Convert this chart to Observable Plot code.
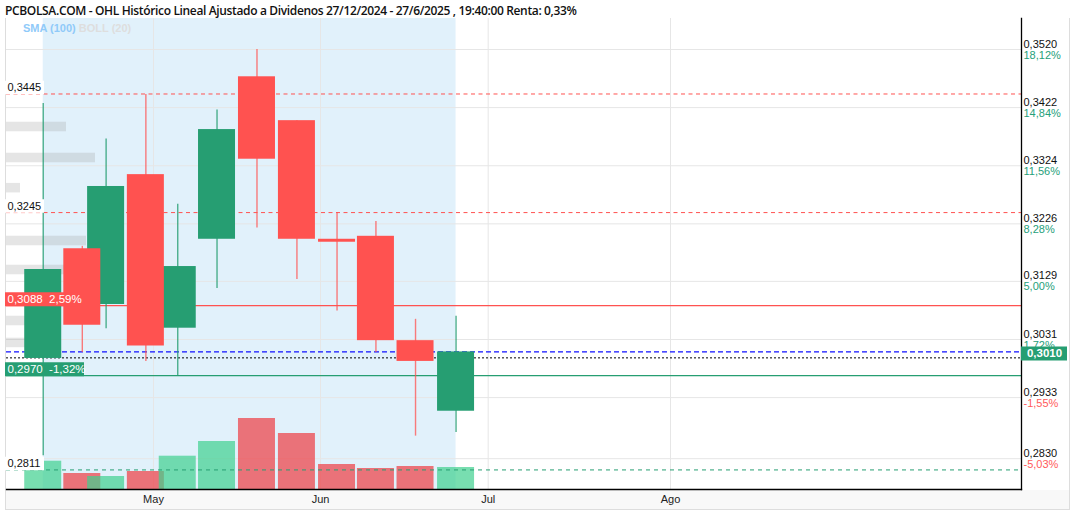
<!DOCTYPE html>
<html>
<head>
<meta charset="utf-8">
<script src="https://cdn.jsdelivr.net/npm/d3@7"></script>
<script src="https://cdn.jsdelivr.net/npm/@observablehq/plot@0.6"></script>
<style>
  body { margin: 0; background: #fff; }
  #wrap { position: relative; width: 1075px; height: 512px; overflow: hidden; }
  #title { height: 18px; padding-left: 5px; font: 600 12px "Open Sans", sans-serif; letter-spacing: -0.35px; color: #111; line-height: 22px; white-space: nowrap; }
  #band { position: absolute; left: 5px; top: 490px; width: 1064px; height: 19px; background: #f8f8f8; border-bottom: 1px solid #ddd; }
  #sides { position: absolute; left: 5px; top: 18px; width: 1063px; height: 492px; border-left: 1px solid #ddd; border-right: 1px solid #ddd; }
  #chart { position: relative; }
  #legend { position: absolute; left: 23px; top: 22px; font: bold 11px "Liberation Sans", Arial, sans-serif; }
  #legend .sma { color: #90caf9; }
  #legend .boll { color: #dedede; }
</style>
</head>
<body>
<div id="wrap">
  <div id="band"></div>
  <div id="sides"></div>
  <div id="title">PCBOLSA.COM - OHL Histórico Lineal Ajustado a Dividenos 27/12/2024 - 27/6/2025 , 19:40:00 Renta: 0,33%</div>
  <div id="chart"></div>
  <div id="legend"><span class="sma">SMA (100)</span> <span class="boll">BOLL (20)</span></div>
</div>
<script>
// ---- data ----
const dates = ["2025-04-10T13:00Z","2025-04-17T19:00Z","2025-04-22T05:00Z","2025-04-29T14:00Z",
               "2025-05-05T12:00Z","2025-05-12T19:00Z","2025-05-20T05:00Z","2025-05-27T15:00Z",
               "2025-06-03T23:00Z","2025-06-10T22:00Z","2025-06-18T00:00Z","2025-06-25T06:00Z"];
const open  = [0.2999,0.3184,0.3090,0.3309,0.3050,0.3200,0.3474,0.3400,0.3200,0.3205,0.3029,0.2910];
const high  = [0.3429,0.3188,0.3369,0.3444,0.3259,0.3418,0.3520,0.3400,0.3245,0.3230,0.3065,0.3070];
const low   = [0.2835,0.3009,0.3049,0.2994,0.2969,0.3117,0.3219,0.3132,0.3079,0.3009,0.2868,0.2874];
const close = [0.3149,0.3055,0.3289,0.3020,0.3154,0.3385,0.3335,0.3200,0.3195,0.3029,0.2994,0.3010];
const volume = [283,160,130,180,333,480,710,560,250,210,230,220];

// horizontal volume profile (price level, relative volume)
const profilePrice = [0.3390,0.3338,0.3287,0.3198,0.3149,0.3063,0.3026];
const profileVol   = [60,89,14,80,60,40,30];

// right axis ticks
const tickValues = [0.3520,0.3422,0.3324,0.3226,0.3129,0.3031,0.2933,0.2830];
const tickLabels = ["0,3520","0,3422","0,3324","0,3226","0,3129","0,3031","0,2933","0,2830"];
const tickPct    = ["18,12%","14,84%","11,56%","8,28%","5,00%","1,72%","-1,55%","-5,03%"];

// month ticks
const monthDates  = ["2025-05-01","2025-06-01","2025-07-01","2025-08-01"];
const monthLabels = ["May","Jun","Jul","Ago"];

// reference levels
const maxLevel = 0.3445, level2 = 0.3245, minLevel = 0.2811;
const redLevel = 0.3088, redPct = "2,59%";
const greenLevel = 0.2970, greenPct = "-1,32%";
const lastPrice = 0.3010, prevClose = 0.3000;

// ---- styling / layout ----
const W = 1075, H = 494;
const mL = 6, mR = 54, mT = 0, mB = 23;
const frameW = W - mL - mR;
const GREEN = "#269e72", RED = "#ff5250";
const yDomain = [0.27780, 0.35723];
const volAxisMax = 4710;
const xStops = ["2025-04-01","2025-05-01","2025-06-01","2025-07-01","2025-08-01","2025-09-01"].map(d => new Date(d));
const xRange = [-8.7, 153, 320, 487.7, 670, 852];

const candles = dates.map((d, i) => ({date: new Date(d), open: open[i], high: high[i], low: low[i], close: close[i], volume: volume[i]}));
const up = candles.filter(c => c.close >= c.open);
const down = candles.filter(c => c.close < c.open);
const volToPrice = v => yDomain[0] + v / volAxisMax * (yDomain[1] - yDomain[0]);

const xs = Plot.scale({x: {type: "utc", domain: xStops, range: xRange}});
const leftDate = xs.invert(mL);
const profPx = 1; // px per profile unit
const profile = profilePrice.map((p, i) => ({price: p, x1: leftDate, x2: xs.invert(mL + profileVol[i] * profPx)}));

const ticks = tickValues.map((v, i) => ({v, label: tickLabels[i], pct: tickPct[i], neg: tickPct[i].startsWith("-")}));
const months = monthDates.map(d => new Date(d));
const monthFmt = new Map(months.map((d, i) => [+d, monthLabels[i]]));
const first = candles[0].date, last = candles[candles.length - 1].date;
const font = "Liberation Sans, Arial, sans-serif";

const chart = Plot.plot({
  width: W, height: H,
  marginLeft: mL, marginRight: mR, marginTop: mT, marginBottom: mB,
  style: {background: "transparent", fontFamily: font, fontSize: "11px", overflow: "visible"},
  x: {type: "utc", domain: xStops, range: xRange, axis: null},
  y: {domain: yDomain, axis: null},
  marks: [
    // shaded period
    Plot.rect([0], {x1: () => first, x2: () => last, fill: "#e1f1fb"}),
    // grid
    Plot.ruleY(tickValues, {stroke: "#e6e6e6", strokeWidth: 1}),
    Plot.ruleX(months, {stroke: "#e6e6e6", strokeWidth: 1}),
    // volume profile
    Plot.ruleY(profile, {y: "price", x1: "x1", x2: "x2", stroke: "#a0a0a0", strokeOpacity: 0.27, strokeWidth: 9.5}),
    // volume bars
    Plot.rect(candles, {x1: "date", x2: "date", y1: yDomain[0], y2: d => volToPrice(d.volume),
      fill: d => d.close >= d.open ? "#3fd08f" : "#ee3c42", fillOpacity: 0.7,
      insetLeft: -18.5, insetRight: -18.5}),
    // reference lines
    Plot.ruleY([maxLevel, level2], {stroke: RED, strokeDasharray: "4,3.5", strokeWidth: 1}),
    Plot.ruleY([redLevel], {stroke: RED, strokeWidth: 1.3}),
    Plot.ruleY([lastPrice], {stroke: "#1010ff", strokeDasharray: "5,3", strokeWidth: 1.2}),
    Plot.ruleY([prevClose], {stroke: "#000", strokeDasharray: "2,2", strokeWidth: 1}),
    Plot.ruleY([greenLevel], {stroke: GREEN, strokeWidth: 1.3}),
    Plot.ruleY([minLevel], {stroke: GREEN, strokeDasharray: "4,4", strokeWidth: 1}),
    // candles: wicks
    Plot.ruleX(up, {x: "date", y1: "low", y2: "high", stroke: GREEN, strokeOpacity: 0.8, strokeWidth: 1.4}),
    Plot.ruleX(down, {x: "date", y1: "low", y2: "high", stroke: RED, strokeOpacity: 0.75, strokeWidth: 1.4}),
    // bodies
    Plot.rect(up, {x1: "date", x2: "date", y1: "open", y2: "close", fill: GREEN, insetLeft: -18.5, insetRight: -18.5}),
    Plot.rect(down, {x1: "date", x2: "date", y1: "open", y2: "close", fill: RED, insetLeft: -18.5, insetRight: -18.5}),
    // frame right + bottom
    Plot.frame({anchor: "right", stroke: "#000", strokeWidth: 1.3}),
    Plot.frame({anchor: "bottom", stroke: "#000", strokeWidth: 1.3}),
    // left level labels (white boxes)
    Plot.ruleY([maxLevel, level2, minLevel], {stroke: "#fff", strokeWidth: 13.5, dy: -6.5, insetLeft: -1, insetRight: frameW - 38}),
    Plot.text([maxLevel, level2, minLevel], {y: d => d, text: d => d.toFixed(4).replace(".", ","), frameAnchor: "left", textAnchor: "start", dx: 1, dy: -6.5, fill: "#111", fontSize: 11}),
    // coloured level labels
    Plot.ruleY([redLevel], {stroke: RED, strokeWidth: 14, dy: -6.5, insetLeft: -1, insetRight: frameW - 72}),
    Plot.text([redLevel], {y: d => d, text: d => d.toFixed(4).replace(".", ",") + "  " + redPct, frameAnchor: "left", textAnchor: "start", dx: 1, dy: -6.5, fill: "#fff", fontSize: 11.5}),
    Plot.ruleY([greenLevel], {stroke: GREEN, strokeWidth: 14, dy: -6.5, insetLeft: -1, insetRight: frameW - 78}),
    Plot.text([greenLevel], {y: d => d, text: d => d.toFixed(4).replace(".", ",") + "  " + greenPct, frameAnchor: "left", textAnchor: "start", dx: 1, dy: -6.5, fill: "#fff", fontSize: 11.5}),
    // right axis
    Plot.text(ticks, {y: "v", text: "label", frameAnchor: "right", textAnchor: "start", dx: 2, dy: -5.5, fill: "#111", fontSize: 11}),
    Plot.text(ticks, {y: "v", text: "pct", frameAnchor: "right", textAnchor: "start", dx: 2, dy: 5.5, fill: d => d.neg ? "#ff5a5a" : "#26a07a", fontSize: 11}),
    // last price tag
    Plot.ruleY([lastPrice], {stroke: GREEN, strokeWidth: 14, dy: 1.5, insetLeft: frameW, insetRight: -46}),
    Plot.text([lastPrice], {y: d => d, text: d => d.toFixed(4).replace(".", ","), frameAnchor: "right", textAnchor: "middle", dx: 23, dy: 1.5, fill: "#fff", fontSize: 11.5, fontWeight: "bold"}),
    // month axis
    Plot.axisX(months, {tickSize: 0, tickPadding: 6, tickFormat: d => monthFmt.get(+d), fontSize: 11, fill: "#222"})
  ]
});
document.getElementById("chart").appendChild(chart);
</script>
</body>
</html>
